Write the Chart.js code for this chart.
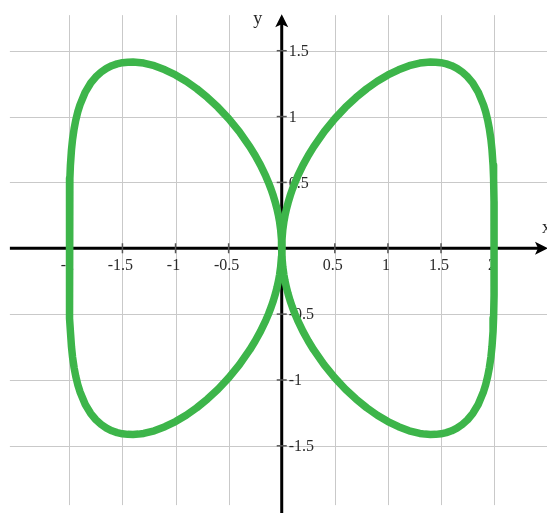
<!DOCTYPE html>
<html>
<head>
<meta charset="utf-8">
<script src="https://cdn.jsdelivr.net/npm/chart.js@4.4.1/dist/chart.umd.min.js"></script>
<style>
  html, body { margin: 0; padding: 0; background: #ffffff; }
  #wrap { width: 547px; height: 513px; }
  canvas { display: block; }
</style>
</head>
<body>
<div id="wrap"><canvas id="c" width="547" height="513"></canvas></div>
<script>
// ---- data (curve traced quarter by quarter) ----
const upperRightX = [0,0.002,0.01,0.02,0.03,0.045,0.06,0.08,0.1,0.125,0.15,0.2,0.25,0.3,0.4,0.5,0.6,0.7,0.8,0.9,1.0,1.1,1.2,1.3,1.35,1.4,1.45,1.5,1.55,1.6,1.65,1.7,1.75,1.8,1.85,1.9,1.92,1.94,1.955,1.97,1.98,1.99,1.995,1.999,2.0];
const upperRightY = [0,0.063,0.141,0.2,0.245,0.3,0.346,0.4,0.447,0.5,0.547,0.631,0.704,0.77,0.885,0.984,1.07,1.145,1.211,1.268,1.316,1.355,1.386,1.406,1.411,1.414,1.413,1.409,1.4,1.386,1.366,1.338,1.302,1.253,1.186,1.089,1.037,0.971,0.908,0.825,0.747,0.631,0.531,0.356,0];
const lowerRightX = [1.999,1.995,1.99,1.98,1.97,1.955,1.94,1.92,1.9,1.85,1.8,1.75,1.7,1.65,1.6,1.55,1.5,1.45,1.4,1.35,1.3,1.2,1.1,1.0,0.9,0.8,0.7,0.6,0.5,0.4,0.3,0.25,0.2,0.15,0.125,0.1,0.08,0.06,0.045,0.03,0.02,0.01,0.002,0];
const lowerRightY = [-0.356,-0.531,-0.631,-0.747,-0.825,-0.908,-0.971,-1.037,-1.089,-1.186,-1.253,-1.302,-1.338,-1.366,-1.386,-1.4,-1.409,-1.413,-1.414,-1.411,-1.406,-1.386,-1.355,-1.316,-1.268,-1.211,-1.145,-1.07,-0.984,-0.885,-0.77,-0.704,-0.631,-0.547,-0.5,-0.447,-0.4,-0.346,-0.3,-0.245,-0.2,-0.141,-0.063,0];
const upperLeftX = [0,-0.002,-0.01,-0.02,-0.03,-0.045,-0.06,-0.08,-0.1,-0.125,-0.15,-0.2,-0.25,-0.3,-0.4,-0.5,-0.6,-0.7,-0.8,-0.9,-1.0,-1.1,-1.2,-1.3,-1.35,-1.4,-1.45,-1.5,-1.55,-1.6,-1.65,-1.7,-1.75,-1.8,-1.85,-1.9,-1.92,-1.94,-1.955,-1.97,-1.98,-1.99,-1.995,-1.999,-2.0];
const upperLeftY = [0,0.063,0.141,0.2,0.245,0.3,0.346,0.4,0.447,0.5,0.547,0.631,0.704,0.77,0.885,0.984,1.07,1.145,1.211,1.268,1.316,1.355,1.386,1.406,1.411,1.414,1.413,1.409,1.4,1.386,1.366,1.338,1.302,1.253,1.186,1.089,1.037,0.971,0.908,0.825,0.747,0.631,0.531,0.356,0];
const lowerLeftX = [-1.999,-1.995,-1.99,-1.98,-1.97,-1.955,-1.94,-1.92,-1.9,-1.85,-1.8,-1.75,-1.7,-1.65,-1.6,-1.55,-1.5,-1.45,-1.4,-1.35,-1.3,-1.2,-1.1,-1.0,-0.9,-0.8,-0.7,-0.6,-0.5,-0.4,-0.3,-0.25,-0.2,-0.15,-0.125,-0.1,-0.08,-0.06,-0.045,-0.03,-0.02,-0.01,-0.002,0];
const lowerLeftY = [-0.356,-0.531,-0.631,-0.747,-0.825,-0.908,-0.971,-1.037,-1.089,-1.186,-1.253,-1.302,-1.338,-1.366,-1.386,-1.4,-1.409,-1.413,-1.414,-1.411,-1.406,-1.386,-1.355,-1.316,-1.268,-1.211,-1.145,-1.07,-0.984,-0.885,-0.77,-0.704,-0.631,-0.547,-0.5,-0.447,-0.4,-0.346,-0.3,-0.245,-0.2,-0.141,-0.063,0];

const xTickValues = [-2,-1.5,-1,-0.5,0.5,1,1.5,2];
const xTickLabels = ['-2','-1.5','-1','-0.5','0.5','1','1.5','2'];
const yTickValues = [-1.5,-1,-0.5,0.5,1,1.5];
const yTickLabels = ['-1.5','-1','-0.5','0.5','1','1.5'];
const xAxisTitle = 'x';
const yAxisTitle = 'y';

function toPoints(xs, ys) { return xs.map((x, i) => ({ x: x, y: ys[i] })); }

const axesPlugin = {
  id: 'mathAxes',
  beforeDatasetsDraw(chart) {
    const ctx = chart.ctx;
    const sx = chart.scales.x, sy = chart.scales.y;
    const X = v => sx.getPixelForValue(v);
    const Y = v => sy.getPixelForValue(v);
    const x0 = X(0), y0 = Y(0);
    ctx.save();
    // grid
    ctx.strokeStyle = '#c9c9c9';
    ctx.lineWidth = 1;
    const gridTop = Y(1.77), gridBottom = Y(-1.95);
    xTickValues.forEach(v => {
      const px = Math.round(X(v)) + 0.5;
      ctx.beginPath(); ctx.moveTo(px, gridTop); ctx.lineTo(px, gridBottom); ctx.stroke();
    });
    const gridLeft = X(-2.56), gridRight = chart.width;
    yTickValues.forEach(v => {
      const py = Math.round(Y(v)) + 0.5;
      ctx.beginPath(); ctx.moveTo(gridLeft, py); ctx.lineTo(gridRight, py); ctx.stroke();
    });
    // axes
    ctx.strokeStyle = '#000';
    ctx.fillStyle = '#000';
    ctx.lineWidth = 3;
    ctx.beginPath(); ctx.moveTo(X(-2.56), y0); ctx.lineTo(chart.width - 6, y0); ctx.stroke();
    ctx.beginPath(); ctx.moveTo(x0, chart.height); ctx.lineTo(x0, Y(1.75)); ctx.stroke();
    // arrowheads
    const tipY = Y(1.77);
    ctx.beginPath(); ctx.moveTo(x0, tipY - 1); ctx.lineTo(x0 - 6.5, tipY + 12); ctx.lineTo(x0, tipY + 9); ctx.lineTo(x0 + 6.5, tipY + 12); ctx.closePath(); ctx.fill();
    const tipX = chart.width + 1;
    ctx.beginPath(); ctx.moveTo(tipX, y0); ctx.lineTo(tipX - 13, y0 - 6.5); ctx.lineTo(tipX - 10, y0); ctx.lineTo(tipX - 13, y0 + 6.5); ctx.closePath(); ctx.fill();
    // tick marks
    ctx.strokeStyle = '#555';
    ctx.lineWidth = 1.5;
    xTickValues.forEach(v => {
      const px = X(v);
      ctx.beginPath(); ctx.moveTo(px, y0 - 5); ctx.lineTo(px, y0 + 5); ctx.stroke();
    });
    yTickValues.forEach(v => {
      const py = Y(v);
      ctx.beginPath(); ctx.moveTo(x0 - 5, py); ctx.lineTo(x0 + 5, py); ctx.stroke();
    });
    // tick labels
    ctx.fillStyle = '#2a2a2a';
    ctx.font = '16px "Liberation Serif", "DejaVu Serif", serif';
    ctx.textAlign = 'center';
    ctx.textBaseline = 'alphabetic';
    xTickValues.forEach((v, i) => {
      ctx.fillText(xTickLabels[i], X(v) - 2, y0 + 22);
    });
    ctx.textAlign = 'left';
    ctx.textBaseline = 'middle';
    yTickValues.forEach((v, i) => {
      ctx.fillText(yTickLabels[i], x0 + 7, Y(v) + 1);
    });
    // axis titles
    ctx.font = '18px "Liberation Serif", "DejaVu Serif", serif';
    ctx.textAlign = 'center';
    ctx.fillText(yAxisTitle, x0 - 24, 19);
    ctx.textAlign = 'left';
    ctx.fillText(xAxisTitle, chart.width - 5, y0 - 20);
    ctx.restore();
  }
};

const curveColor = '#3db54a';
const lineStyle = { showLine: true, borderColor: curveColor, borderWidth: 7.5, pointRadius: 0, tension: 0, borderCapStyle: 'round', borderJoinStyle: 'round' };
new Chart(document.getElementById('c'), {
  type: 'scatter',
  data: {
    datasets: [
      Object.assign({ data: toPoints(upperRightX.concat(lowerRightX), upperRightY.concat(lowerRightY)) }, lineStyle),
      Object.assign({ data: toPoints(upperLeftX.concat(lowerLeftX), upperLeftY.concat(lowerLeftY)) }, lineStyle)
    ]
  },
  options: {
    responsive: false,
    devicePixelRatio: 1,
    animation: false,
    layout: { padding: 0 },
    plugins: { legend: { display: false }, tooltip: { enabled: false } },
    scales: {
      x: { type: 'linear', min: -2.653, max: 2.498, display: false },
      y: { type: 'linear', min: -2.01, max: 1.885, display: false }
    }
  },
  plugins: [axesPlugin]
});
</script>
</body>
</html>
